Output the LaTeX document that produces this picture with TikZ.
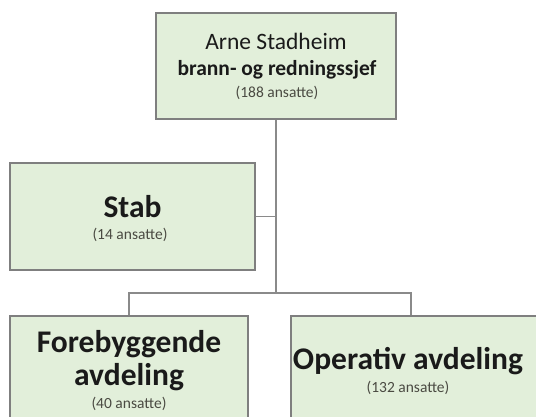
\documentclass[tikz,border=0pt]{standalone}
\usepackage{fontspec}
\setmainfont{Carlito}
\usetikzlibrary{shadows}
\definecolor{boxfill}{HTML}{E2EFDA}
\definecolor{boxline}{HTML}{7F7F7F}
\definecolor{connline}{HTML}{8A8A8A}
\definecolor{maintext}{HTML}{1A1A1A}
\definecolor{smalltext}{HTML}{4A4A42}
\tikzset{
  orgbox/.style={draw=boxline, line width=1.3pt, fill=boxfill, rectangle, inner sep=0pt,
    drop shadow={shadow xshift=1pt, shadow yshift=-1pt, opacity=0.35, fill=black!60}},
  conn/.style={draw=connline, line width=1.6pt},
  txt/.style={anchor=base, inner sep=0pt, text=maintext},
  smalltxt/.style={anchor=base, inner sep=0pt, text=smalltext, font=\fontsize{15.5}{18}\selectfont},
  bigbold/.style={txt, font=\fontsize{31.5}{36}\selectfont\bfseries}
}
\begin{document}
\begin{tikzpicture}[x=1pt,y=-1pt]
\useasboundingbox (0,0) rectangle (536,416);
\clip (0,0) rectangle (536,416);
\fill[white] (0,0) rectangle (536,416);
% boxes
\node[orgbox, minimum width=240pt, minimum height=106pt] (chief) at (276,66) {};
\node[orgbox, minimum width=245pt, minimum height=107pt] (stab) at (132.5,216.5) {};
\node[orgbox, minimum width=238pt, minimum height=107pt] (fore) at (129,369.5) {};
\node[orgbox, minimum width=262pt, minimum height=107pt] (oper) at (422,369.5) {};
% connectors
\coordinate (j1) at (chief.south |- 0,293);
\coordinate (j2) at (411,293);
\draw[conn] (chief.south) -- (j1);
\draw[conn] (stab.east) -- (stab.east -| chief.south);
\draw[conn] (fore.north) -- (fore.north |- j1) -- (j2) -- (j2 |- oper.north);
% texts
\node[txt, font=\fontsize{23.5}{28}\selectfont] (chiefname) at (276,49) {Arne Stadheim};
\node[txt, font=\fontsize{21.5}{25}\selectfont\bfseries] (chieftitle) at (277,75) {brann- og redningssjef};
\node[smalltxt] (chiefcount) at (277,97) {(188 ansatte)};
\node[bigbold] (stabname) at (132.5,217) {Stab};
\node[smalltxt] (stabcount) at (130,239) {(14 ansatte)};
\node[bigbold] (forename1) at (129,352) {Forebyggende};
\node[bigbold] (forename2) at (129,385) {avdeling};
\node[smalltxt] (forecount) at (129,408) {(40 ansatte)};
\node[bigbold] (opername) at (408,369) {Operativ avdeling};
\node[smalltxt] (opercount) at (408,392) {(132 ansatte)};
\end{tikzpicture}
\end{document}
